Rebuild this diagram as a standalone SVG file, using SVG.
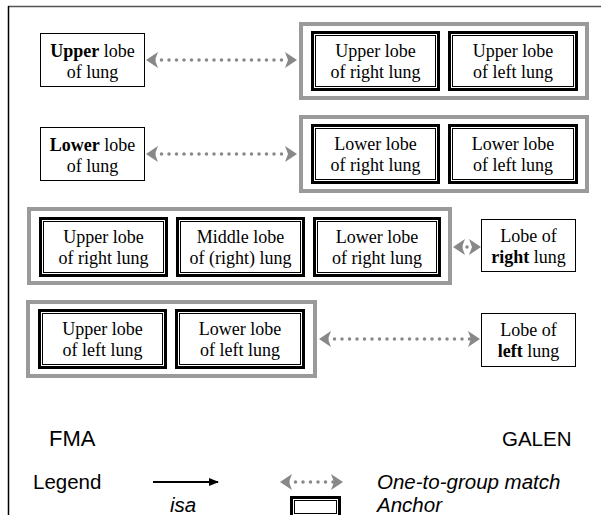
<svg xmlns="http://www.w3.org/2000/svg" width="601" height="515" viewBox="0 0 601 515">
<style>
.t{font-family:"Liberation Serif","Times New Roman",serif;font-size:18px;fill:#000;text-anchor:middle}
.s{font-family:"Liberation Sans",Arial,sans-serif;font-size:20.5px;fill:#000}
.i{font-style:italic}
.b{font-weight:bold}
.plain{fill:#fff;stroke:#000;stroke-width:1}
.grp{fill:none;stroke:#9a9a9a;stroke-width:4}
.aout{fill:#fff;stroke:#000;stroke-width:5}
.ain{fill:none;stroke:#fff;stroke-width:1}
.match{fill:none;stroke:#888;stroke-width:3.5;stroke-linecap:round;stroke-dasharray:0 7.5}
</style>
<defs>
<marker id="gh" viewBox="0 0 12 16" refX="4" refY="8" markerWidth="12" markerHeight="16" markerUnits="userSpaceOnUse" orient="auto-start-reverse">
<path d="M0,0 L12,8 L0,16 L3,8 Z" fill="#888"/>
</marker>
<marker id="bh" viewBox="0 0 10 8" refX="9" refY="4" markerWidth="10" markerHeight="8" markerUnits="userSpaceOnUse" orient="auto">
<path d="M0,0 L10,4 L0,8 Z" fill="#000"/>
</marker>
</defs>

<g id="frame">
<line x1="8" y1="6.5" x2="601" y2="6.5" stroke="#555" stroke-width="1.5"/>
<line x1="8.5" y1="6" x2="8.5" y2="515" stroke="#000" stroke-width="1.5"/>
</g>

<g id="groups">
<rect class="grp" x="301" y="24" width="286" height="74"/>
<rect class="grp" x="301" y="117" width="286" height="74"/>
<rect class="grp" x="29" y="209" width="421" height="74"/>
<rect class="grp" x="28" y="302" width="287" height="74"/>
</g>

<g id="connectors">
<path class="match" d="M154,60 L289,60" marker-start="url(#gh)" marker-end="url(#gh)"/>
<path class="match" d="M154,154 L289,154" marker-start="url(#gh)" marker-end="url(#gh)"/>
<path class="match" d="M461,247 L473,247" style="stroke-dasharray:0 6" marker-start="url(#gh)" marker-end="url(#gh)"/>
<path class="match" d="M327,339 L472,339" marker-start="url(#gh)" marker-end="url(#gh)"/>
</g>

<g id="fma-upper-lobe">
<rect class="plain" x="40.5" y="33.5" width="104" height="53"/>
<text class="t" x="92.5" y="57"><tspan class="b">Upper</tspan> lobe</text>
<text class="t" x="92.5" y="78">of lung</text>
</g>
<g id="fma-lower-lobe">
<rect class="plain" x="40.5" y="127.5" width="104" height="53"/>
<text class="t" x="92.5" y="151"><tspan class="b">Lower</tspan> lobe</text>
<text class="t" x="92.5" y="172">of lung</text>
</g>

<g id="galen-upper-right">
<rect class="aout" x="313.5" y="33.5" width="124" height="55"/>
<rect class="ain" x="314.5" y="34.5" width="122" height="53"/>
<text class="t" x="375.5" y="57">Upper lobe</text>
<text class="t" x="375.5" y="78">of right lung</text>
</g>
<g id="galen-upper-left">
<rect class="aout" x="450.5" y="33.5" width="125" height="55"/>
<rect class="ain" x="451.5" y="34.5" width="123" height="53"/>
<text class="t" x="513" y="57">Upper lobe</text>
<text class="t" x="513" y="78">of left lung</text>
</g>
<g id="galen-lower-right">
<rect class="aout" x="313.5" y="126.5" width="124" height="55"/>
<rect class="ain" x="314.5" y="127.5" width="122" height="53"/>
<text class="t" x="375.5" y="150">Lower lobe</text>
<text class="t" x="375.5" y="171">of right lung</text>
</g>
<g id="galen-lower-left">
<rect class="aout" x="450.5" y="126.5" width="125" height="55"/>
<rect class="ain" x="451.5" y="127.5" width="123" height="53"/>
<text class="t" x="513" y="150">Lower lobe</text>
<text class="t" x="513" y="171">of left lung</text>
</g>

<g id="fma-upper-right">
<rect class="aout" x="41.5" y="219.5" width="124" height="55"/>
<rect class="ain" x="42.5" y="220.5" width="122" height="53"/>
<text class="t" x="103.5" y="243">Upper lobe</text>
<text class="t" x="103.5" y="264">of right lung</text>
</g>
<g id="fma-middle-right">
<rect class="aout" x="178.5" y="219.5" width="124" height="55"/>
<rect class="ain" x="179.5" y="220.5" width="122" height="53"/>
<text class="t" x="240.5" y="243">Middle lobe</text>
<text class="t" x="240.5" y="264">of (right) lung</text>
</g>
<g id="fma-lower-right">
<rect class="aout" x="315.5" y="219.5" width="123" height="55"/>
<rect class="ain" x="316.5" y="220.5" width="121" height="53"/>
<text class="t" x="377" y="243">Lower lobe</text>
<text class="t" x="377" y="264">of right lung</text>
</g>
<g id="galen-lobe-right">
<rect class="plain" x="481.5" y="219.5" width="94" height="52"/>
<text class="t" x="528.5" y="242">Lobe of</text>
<text class="t" x="528.5" y="263"><tspan class="b">right</tspan> lung</text>
</g>

<g id="fma-upper-left">
<rect class="aout" x="40.5" y="311.5" width="124" height="55"/>
<rect class="ain" x="41.5" y="312.5" width="122" height="53"/>
<text class="t" x="102.5" y="335">Upper lobe</text>
<text class="t" x="102.5" y="356">of left lung</text>
</g>
<g id="fma-lower-left">
<rect class="aout" x="177.5" y="311.5" width="125" height="55"/>
<rect class="ain" x="178.5" y="312.5" width="123" height="53"/>
<text class="t" x="240" y="335">Lower lobe</text>
<text class="t" x="240" y="356">of left lung</text>
</g>
<g id="galen-lobe-left">
<rect class="plain" x="481.5" y="313.5" width="94" height="53"/>
<text class="t" x="528.5" y="336">Lobe of</text>
<text class="t" x="528.5" y="357"><tspan class="b">left</tspan> lung</text>
</g>

<g id="labels">
<text class="s" x="49" y="446" style="font-size:22px">FMA</text>
<text class="s" x="502" y="446">GALEN</text>
</g>

<g id="legend">
<text class="s" x="33" y="489">Legend</text>
<line x1="153" y1="482" x2="218" y2="482" stroke="#000" stroke-width="2" marker-end="url(#bh)"/>
<text class="s i" x="170" y="512">isa</text>
<path class="match" d="M288,482 L335,482" marker-start="url(#gh)" marker-end="url(#gh)"/>
<text class="s i" x="377" y="489">One-to-group match</text>
<rect class="aout" x="292.5" y="498.5" width="46" height="17"/>
<rect class="ain" x="293.5" y="499.5" width="44" height="15"/>
<text class="s i" x="377" y="512">Anchor</text>
</g>
</svg>
